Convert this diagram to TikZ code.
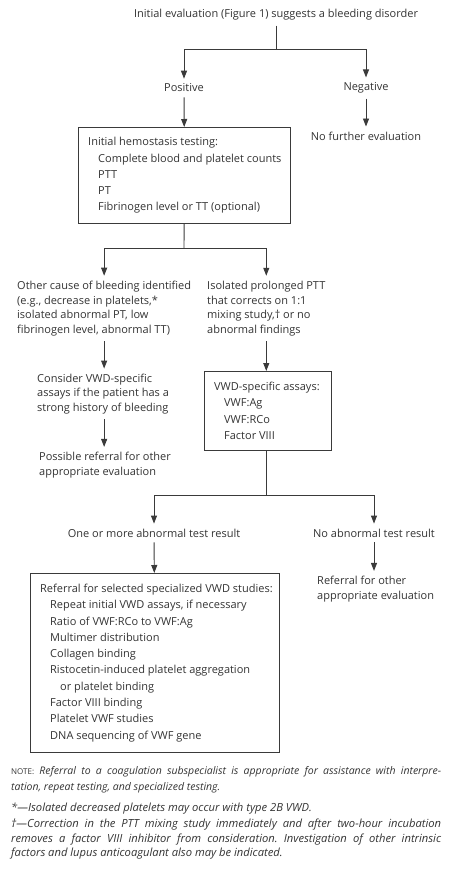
\documentclass[tikz,border=0pt]{standalone}
\usepackage{fontspec}
\setmainfont{Open Sans}
\frenchspacing
\usetikzlibrary{positioning, calc, arrows.meta}

\begin{document}
\begin{tikzpicture}[
  x=1pt, y=-1pt,
  font=\fontsize{11}{14.7}\selectfont,
  every node/.style={text=cink, inner xsep=0pt, inner ysep=5pt},
  link/.style={draw=cline, line width=0.9pt},
  flow/.style={link, -{Triangle[length=8pt,width=6pt]}},
  panel/.style={draw=cline, line width=0.9pt, anchor=north west, inner sep=0pt},
  plain/.style={align=left, anchor=west},
  listing/.style={align=left, anchor=west, font=\fontsize{11}{16.3}\selectfont},
  remark/.style={anchor=north west, inner sep=0pt, text width=430pt, align=justify,
                 font=\fontsize{11.2}{14.3}\selectfont\itshape},
]
\definecolor{cink}{HTML}{333333}   % text
\definecolor{cline}{HTML}{3A3A3A}  % boxes and arrows

\useasboundingbox (0,0) rectangle (450,870);

% -------- top: first split --------
\node (start) at (276,15) {Initial evaluation (Figure 1) suggests a bleeding disorder};
\node (pos) at (184,88) {Positive};
\node (neg) at (366,88) {Negative};
\node (nofurther) at (366,136) {No further evaluation};

\node[panel, minimum width=212pt, minimum height=96pt] (hemo) at (78,127) {};
\node[listing] (hemotext) at ([xshift=10pt]hemo.west)
  {Initial hemostasis testing:\\
   \hspace*{10pt}Complete blood and platelet counts\\
   \hspace*{10pt}PTT\\
   \hspace*{10pt}PT\\
   \hspace*{10pt}Fibrinogen level or TT (optional)};

% -------- middle: second split --------
\node[plain] (other) at (17,308.5)
  {Other cause of bleeding identified\\
   (e.g., decrease in platelets,*\\
   isolated abnormal PT, low\\
   fibrinogen level, abnormal TT)};
\node[plain] (isolated) at (207,308.5)
  {Isolated prolonged PTT\\
   that corrects on 1:1\\
   mixing study,† or no\\
   abnormal findings};
\node[plain] (consider) at (37,394)
  {Consider VWD-specific\\
   assays if the patient has a\\
   strong history of bleeding};
\node[plain] (possible) at (39,465)
  {Possible referral for other\\
   appropriate evaluation};

\node[panel, minimum width=127pt, minimum height=79pt] (vwd) at (204,371) {};
\node[listing] (vwdtext) at ([xshift=10pt]vwd.west)
  {VWD-specific assays:\\
   \hspace*{10pt}VWF:Ag\\
   \hspace*{10pt}VWF:RCo\\
   \hspace*{10pt}Factor VIII};

% -------- bottom: third split --------
\node (onemore) at (154,533) {One or more abnormal test result};
\node (noabn) at (374,533) {No abnormal test result};
\node[plain] (referral) at (317,589)
  {Referral for other\\
   appropriate evaluation};

\node[panel, minimum width=249pt, minimum height=179pt] (special) at (30,573) {};
\node[listing] (specialtext) at ([xshift=10pt]special.west)
  {Referral for selected specialized VWD studies:\\
   \hspace*{10pt}Repeat initial VWD assays, if necessary\\
   \hspace*{10pt}Ratio of VWF:RCo to VWF:Ag\\
   \hspace*{10pt}Multimer distribution\\
   \hspace*{10pt}Collagen binding\\
   \hspace*{10pt}Ristocetin-induced platelet aggregation\\
   \hspace*{20pt}or platelet binding\\
   \hspace*{10pt}Factor VIII binding\\
   \hspace*{10pt}Platelet VWF studies\\
   \hspace*{10pt}DNA sequencing of VWF gene};

% -------- connectors --------
\coordinate (fork1) at (276,49);
\coordinate (fork2) at (184,248);
\coordinate (fork3) at (266,495);

\draw[link] (start) -- (fork1);
\draw[flow] (fork1) -| (pos);
\draw[flow] (fork1) -| (neg);
\draw[flow] (pos) -- (hemo);
\draw[flow] (neg) -- (nofurther);

\draw[link] (hemo) -- (fork2);
\draw[flow] (fork2) -| (other);
\draw[flow] (fork2) -| (isolated);
\draw[flow] (other.south) -- (other.south |- consider.north);
\draw[flow] (other.south |- consider.south) -- (other.south |- possible.north);
\draw[flow] (isolated.south) -- (isolated.south |- vwd.north);

\draw[link] (fork3 |- vwd.south) -- (fork3);
\draw[flow] (fork3) -| (onemore);
\draw[flow] (fork3) -| (noabn);
\draw[flow] (onemore) -- (special);
\draw[flow] (noabn.south) -- (noabn.south |- referral.north);

% -------- notes --------
\node[remark, font=\fontsize{10.5}{16}\selectfont\itshape] (note) at (11,766)
  {{\upshape\fontsize{8}{16}\selectfont NOTE:} Referral to a coagulation subspecialist is appropriate for assistance with interpre-\linebreak
   tation, repeat testing, and specialized testing.};
\node[remark] (fnstar) at (11,803)
  {*---Isolated decreased platelets may occur with type 2B VWD.};
\node[remark] (fndagger) at (11,819)
  {†---Correction in the PTT mixing study immediately and after two-hour incubation\linebreak
   removes a factor VIII inhibitor from consideration. Investigation of other intrinsic\linebreak
   factors and lupus anticoagulant also may be indicated.};
\end{tikzpicture}
\end{document}
